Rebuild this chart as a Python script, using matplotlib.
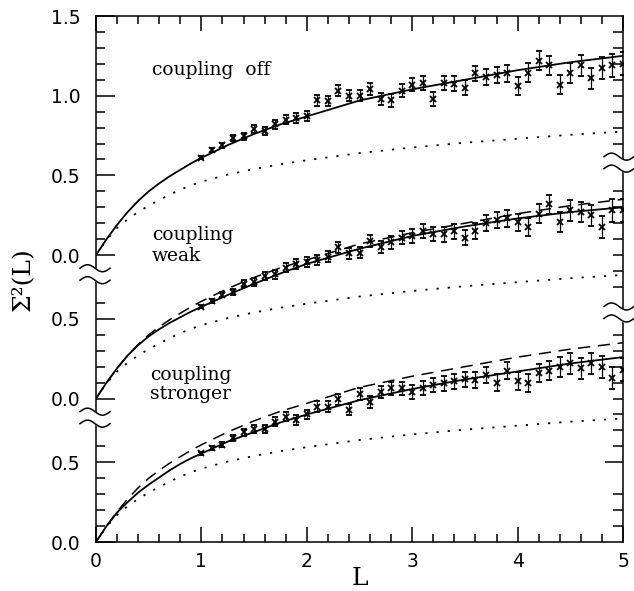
import numpy as np
import matplotlib
matplotlib.use('Agg')
import matplotlib.pyplot as plt
from matplotlib.transforms import IdentityTransform

# curve sampling grid (L) and values
L_curve = [0, 0.05, 0.1, 0.2, 0.3, 0.4, 0.5, 0.6, 0.7, 0.8, 0.9, 1.0, 1.25,
           1.5, 1.75, 2.0, 2.5, 3.0, 3.5, 4.0, 4.5, 5.0]
# dotted curve (same in every panel)
dotted = [0, 0.05, 0.095, 0.17, 0.225, 0.27, 0.31, 0.345, 0.38, 0.41, 0.437,
          0.46, 0.505, 0.54, 0.57, 0.595, 0.64, 0.675, 0.705, 0.73, 0.755,
          0.775]
# uncoupled curve: solid in top panel, dashed in the lower two
uncoupled = [0, 0.05, 0.1, 0.19, 0.27, 0.34, 0.40, 0.45, 0.495, 0.535, 0.575,
             0.61, 0.69, 0.76, 0.82, 0.87, 0.97, 1.04, 1.10, 1.16, 1.21, 1.25]
weak_fit = [0, 0.05, 0.1, 0.19, 0.27, 0.335, 0.39, 0.435, 0.475, 0.51, 0.545,
            0.575, 0.65, 0.72, 0.785, 0.845, 0.94, 1.02, 1.08, 1.13, 1.17,
            1.20]
strong_fit = [0, 0.05, 0.1, 0.185, 0.25, 0.31, 0.36, 0.405, 0.45, 0.49, 0.525,
              0.555, 0.63, 0.69, 0.75, 0.80, 0.89, 0.96, 1.02, 1.07, 1.12,
              1.16]

# data points
L_pts = [round(1.0 + 0.1 * i, 1) for i in range(41)]
err = [0.010, 0.013, 0.016, 0.019, 0.022, 0.024, 0.026, 0.027, 0.028, 0.030,
       0.031, 0.032, 0.033, 0.034, 0.035, 0.036, 0.037, 0.038, 0.040, 0.041,
       0.042, 0.043, 0.044, 0.045, 0.047, 0.048, 0.049, 0.050, 0.052, 0.053,
       0.055, 0.057, 0.058, 0.060, 0.062, 0.063, 0.065, 0.066, 0.068, 0.070,
       0.072]
off_pts = [0.61, 0.657, 0.69, 0.736, 0.746, 0.79, 0.78, 0.82, 0.85, 0.86,
           0.87, 0.97, 0.966, 1.03, 1.00, 1.00, 1.04, 0.98, 0.97, 1.03,
           1.07, 1.08, 0.98, 1.08, 1.075, 1.05, 1.14, 1.12, 1.13, 1.14,
           1.06, 1.145, 1.22, 1.19, 1.07, 1.14, 1.19, 1.11, 1.175, 1.19,
           1.20]
weak_pts = [0.577, 0.61, 0.65, 0.667, 0.72, 0.73, 0.77, 0.78, 0.82, 0.845,
            0.855, 0.87, 0.89, 0.95, 0.91, 0.915, 0.99, 0.95, 0.98, 1.01,
            1.02, 1.05, 1.03, 1.03, 1.05, 1.01, 1.05, 1.10, 1.12, 1.13,
            1.105, 1.075, 1.16, 1.22, 1.11, 1.18, 1.17, 1.15, 1.075, 1.18,
            1.18]
strong_pts = [0.556, 0.59, 0.61, 0.65, 0.69, 0.71, 0.71, 0.755, 0.786, 0.765,
              0.80, 0.85, 0.85, 0.895, 0.83, 0.93, 0.88, 0.94, 0.965, 0.965,
              0.94, 0.965, 0.985, 0.995, 1.01, 1.02, 1.015, 1.05, 1.00, 1.075,
              1.01, 1.00, 1.06, 1.075, 1.10, 1.12, 1.09, 1.12, 1.10, 1.03,
              1.08]

offsets = [1.8, 0.9, 0.0]   # top, middle, bottom panel
tick_labels = ['0.0', '0.5', '0.0', '0.5', '0.0', '0.5', '1.0', '1.5']
tick_pos = [0.0, 0.5, 0.9, 1.4, 1.8, 2.3, 2.8, 3.3]

fig = plt.figure(figsize=(6.34, 5.91), dpi=100)
ax = fig.add_axes([96 / 634, 49 / 591, 527 / 634, 526 / 591])

dot_ls = (0, (1.2, 5))
dash_ls = (0, (8, 5))
lw = 1.3

# top: coupling off
o = offsets[0]
ax.plot(L_curve, np.array(uncoupled) + o, 'k-', lw=lw)
ax.plot(L_curve, np.array(dotted) + o, color='k', ls=dot_ls, lw=lw)
ax.errorbar(L_pts, np.array(off_pts) + o, yerr=err, fmt='x', color='k', ms=4,
            mew=1.3, capsize=2.5, elinewidth=0.9, capthick=0.9)

# middle: weak coupling
o = offsets[1]
ax.plot(L_curve, np.array(weak_fit) + o, 'k-', lw=lw)
ax.plot(L_curve, np.array(uncoupled) + o, color='k', ls=dash_ls, lw=1.1)
ax.plot(L_curve, np.array(dotted) + o, color='k', ls=dot_ls, lw=lw)
ax.errorbar(L_pts, np.array(weak_pts) + o, yerr=err, fmt='x', color='k', ms=4,
            mew=1.3, capsize=2.5, elinewidth=0.9, capthick=0.9)

# bottom: stronger coupling
o = offsets[2]
ax.plot(L_curve, np.array(strong_fit) + o, 'k-', lw=lw)
ax.plot(L_curve, np.array(uncoupled) + o, color='k', ls=dash_ls, lw=1.1)
ax.plot(L_curve, np.array(dotted) + o, color='k', ls=dot_ls, lw=lw)
ax.errorbar(L_pts, np.array(strong_pts) + o, yerr=err, fmt='x', color='k', ms=4,
            mew=1.3, capsize=2.5, elinewidth=0.9, capthick=0.9)

ax.set_xlim(0, 5)
ax.set_ylim(0, 3.3)

serif = ['DejaVu Serif']
tfs = 13.5
ax.text(0.53, 2.93, 'coupling  off', family=serif, fontsize=tfs)
ax.text(0.53, 1.895, 'coupling', family=serif, fontsize=tfs)
ax.text(0.53, 1.76, 'weak', family=serif, fontsize=tfs)
ax.text(0.51, 1.016, 'coupling', family=serif, fontsize=tfs)
ax.text(0.51, 0.897, 'stronger', family=serif, fontsize=tfs)

# ticks
ax.set_yticks(tick_pos)
ax.set_yticklabels(tick_labels)
minor_y = [v / 10 for v in list(range(1, 7)) + list(range(10, 16)) + list(range(19, 33))]
ax.set_yticks([v for v in minor_y if v not in tick_pos], minor=True)
ax.set_xticks([0, 1, 2, 3, 4, 5])
ax.set_xticks([v / 5 for v in range(26)], minor=True)
ax.tick_params(axis='both', which='both', direction='in', width=1.1)
ax.tick_params(axis='y', which='major', length=13.5, pad=11)
ax.tick_params(axis='y', which='minor', length=6.5)
ax.tick_params(axis='x', which='major', length=11, top=True, pad=7)
ax.tick_params(axis='x', which='minor', length=6, top=True)
for lab in ax.get_xticklabels() + ax.get_yticklabels():
    lab.set_fontfamily('DejaVu Sans')
    lab.set_fontsize(13.5)
for s in ax.spines.values():
    s.set_linewidth(1.1)

ax2 = ax.twinx()
ax2.set_ylim(0, 3.3)
ax2.set_yticks([0.5])
ax2.set_yticklabels([])
skip_r = [4, 5, 14, 15, 23, 24]
ax2.set_yticks([v / 10 for v in range(1, 33) if v not in skip_r], minor=True)
ax2.tick_params(axis='y', which='major', direction='in', length=13, width=1.1)
ax2.tick_params(axis='y', which='minor', direction='in', length=7, width=1.1)
for s in ax2.spines.values():
    s.set_visible(False)

ax.set_xlabel('L', family=serif, fontsize=18, labelpad=-3)
ax.set_ylabel('Σ²(L)', family=serif, fontsize=18, labelpad=12)


# axis break marks
def axis_break(xfrac, yval, dx=0):
    x0, y0 = ax.get_yaxis_transform().transform((xfrac, yval))
    x0 += dx
    t = np.linspace(-15, 15, 60)
    wave = -3.5 * np.sin(2 * np.pi * t / 30)
    up = y0 + 6 + wave
    lo = y0 - 6 + wave
    tr = IdentityTransform()
    ax.fill_between(x0 + t, lo, up, color='white', transform=tr,
                    clip_on=False, zorder=5)
    ax.plot(x0 + t, up, 'k-', lw=1.1, transform=tr, clip_on=False, zorder=6)
    ax.plot(x0 + t, lo, 'k-', lw=1.1, transform=tr, clip_on=False, zorder=6)


axis_break(0, 0.78, dx=-1)
axis_break(0, 1.68, dx=-1)
axis_break(1, 1.44, dx=-4)
axis_break(1, 2.38, dx=-4)

fig.savefig('out.png', dpi=100)
